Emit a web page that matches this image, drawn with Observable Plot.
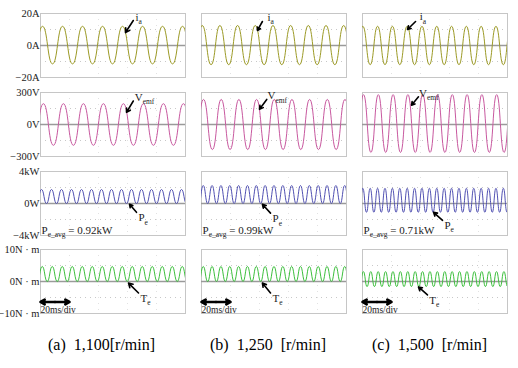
<!DOCTYPE html>
<html><head><meta charset="utf-8">
<script src="https://cdn.jsdelivr.net/npm/d3@7"></script>
<script src="https://cdn.jsdelivr.net/npm/@observablehq/plot@0.6"></script>
<style>
body{margin:0;background:#fff;}
#chart{position:relative;width:518px;height:368px;font-family:"Liberation Serif","DejaVu Serif",serif;overflow:hidden;}
#chart svg{position:absolute;overflow:visible;}
.cap{position:absolute;font-family:"Liberation Serif","DejaVu Serif",serif;font-size:16px;line-height:16px;white-space:pre;color:#000;}
</style></head><body><div id="chart"></div>
<script>
// ---- data ----
const panelLetters = ["(a)", "(b)", "(c)"];
const speedLabels = ["1,100[r/min]", "1,250  [r/min]", "1,500  [r/min]"];
const elecFreqHz = [72.5, 82, 98];          // fundamental frequency per speed
const rowKeys = ["ia", "vemf", "Pe", "Te"];
const harmonic = [1, 1, 2, 2];               // Pe and Te oscillate at twice the frequency
const yLimits = [20, 300, 4, 10];
const tickLabels = [
  ["\u221220A", "0A", "20A"],
  ["\u2212300V", "0V", "300V"],
  ["\u22124kW", "0W", "4kW"],
  ["\u221210N \u00b7 m", "0N \u00b7 m", "10N \u00b7 m"]
];
// peak / trough per column (a, b, c)
const iaPeak = [12, 12.5, 12],      iaTrough = [-11.5, -12, -12];
const vemfPeak = [195, 235, 280],   vemfTrough = [-195, -235, -262];
const pePeak = [1.75, 2.25, 1.9],   peTrough = [0, 0, -1.1];
const tePeak = [4.7, 4.7, 3.1],     teTrough = [0, 0, -1.6];
// time (ms) of first peak
const iaFirst = [1.4, 0.5, 0.2], vemfFirst = [2, 1.4, 0.7], peFirst = [0.7, 1.2, 0.2], teFirst = [1.2, 1.2, 0.6];
const peAvg = ["0.92kW", "0.99kW", "0.71kW"];
const timePerDiv = 20; // ms
const windowMs = 100;

// annotation anchors (tail t,v ; head t,v ; label t,v), per column
const iaNote = [
  {t1: 64, v1: 15.6, t2: 58.6, v2: 8.1, tl: 65.5, vl: 17.5},
  {t1: 42, v1: 15, t2: 38.6, v2: 9.4, tl: 45.5, vl: 17.5},
  {t1: 36.6, v1: 15, t2: 31, v2: 10, tl: 39.5, vl: 18}
];
const vemfNote = [
  {t1: 64, v1: 220, t2: 59.3, v2: 114, tl: 65, vl: 255},
  {t1: 45, v1: 235, t2: 40, v2: 143, tl: 45.5, vl: 268},
  {t1: 38.6, v1: 260, t2: 33.8, v2: 181, tl: 39, vl: 290}
];
const peNote = [
  {t1: 66.2, v1: -1.1, t2: 61.4, v2: -0.1, tl: 67.5, vl: -1.8},
  {t1: 47.6, v1: -1.2, t2: 42, v2: -0.1, tl: 49, vl: -1.9},
  {t1: 55.2, v1: -2.1, t2: 49, v2: -1.1, tl: 56.5, vl: -2.7}
];
const teNote = [
  {t1: 67.6, v1: -3.6, t2: 60.7, v2: -0.5, tl: 69, vl: -5.3},
  {t1: 47.6, v1: -3.6, t2: 42, v2: -0.5, tl: 49, vl: -5.3},
  {t1: 44.8, v1: -4.2, t2: 38.6, v2: -1.7, tl: 46, vl: -5.9}
];
const noteText = ["i|a|", "V|emf|", "P|e|", "T|e|"];

// ---- layout / style ----
const FONT = '"Liberation Serif", "DejaVu Serif", serif';
const colLeft = [40, 201, 362], panelW = 145;
const rowTop = [13, 92, 171, 249], panelH = 64;
const colors = ["#9c9a26", "#c8589f", "#5050b2", "#3cbf3c"];
const rowPeak = [iaPeak, vemfPeak, pePeak, tePeak];
const rowTrough = [iaTrough, vemfTrough, peTrough, teTrough];
const rowFirst = [iaFirst, vemfFirst, peFirst, teFirst];
const rowNotes = [iaNote, vemfNote, peNote, teNote];

function extrema(c, r) {
  const half = 1000 / (elecFreqHz[c] * harmonic[r]) / 2;
  const t0 = rowFirst[r][c];
  const pts = [];
  for (let k = -2; t0 + k * half <= windowMs + 2 * half; k++) {
    pts.push({t: t0 + k * half, v: (k % 2 === 0) ? rowPeak[r][c] : rowTrough[r][c]});
  }
  return pts;
}

function subscripts(svg) {
  d3.select(svg).selectAll("text").each(function() {
    const s = this.textContent;
    if (!s.includes("|")) return;
    const parts = s.split("|");
    const el = d3.select(this);
    const fs = parseFloat(el.attr("font-size")) || 11;
    el.text(null);
    parts.forEach((p, i) => {
      if (!p) return;
      const ts = el.append("tspan").text(p);
      if (i % 2 === 1) ts.attr("font-size", fs * 0.68).attr("dy", fs * 0.3);
      else if (i > 0) ts.attr("dy", -fs * 0.3);
    });
  });
}

const chart = document.getElementById("chart");
for (let c = 0; c < 3; c++) {
  for (let r = 0; r < 4; r++) {
    const ml = c === 0 ? 40 : 1;
    const L = yLimits[r];
    const note = rowNotes[r][c];
    const marks = [
      Plot.ruleY([-L * 0.5, L * 0.5], {stroke: "#c8c8c8", strokeDasharray: "1,4"}),
      Plot.ruleX([20, 40, 60, 80], {stroke: "#e2e2e2", strokeDasharray: "1,5"}),
      Plot.frame({stroke: "#c6c6c6"}),
      Plot.ruleY([0], {stroke: "#9a9a9a", strokeWidth: 1.3}),
      Plot.line(extrema(c, r), {x: "t", y: "v", curve: "bump-x", stroke: colors[r], strokeWidth: 1, clip: true}),
      Plot.arrow([note], {x1: "t1", y1: "v1", x2: "t2", y2: "v2", stroke: "#000", strokeWidth: 1.6, headLength: 5}),
      Plot.text([note], {x: "tl", y: "vl", text: () => noteText[r], textAnchor: "start", fontSize: 11, fill: "#222"})
    ];
    if (r === 2) {
      marks.push(Plot.text([peAvg[c]], {x: 0, y: -L * 0.84, text: d => "P|e_avg| = " + d, textAnchor: "start", fontSize: 11, fill: "#222", dx: 1}));
    }
    if (r === 3) {
      const bar = [{a: timePerDiv / 2, b: 0}, {a: timePerDiv / 2, b: timePerDiv}];
      marks.push(Plot.arrow(bar, {x1: "a", x2: "b", y1: () => -L * 0.64, y2: () => -L * 0.64, stroke: "#000", strokeWidth: 2.6, headLength: 5}));
      marks.push(Plot.text([timePerDiv + "ms/div"], {x: 0, y: -L * 0.9, text: d => d, textAnchor: "start", fontSize: 9.5, fill: "#222"}));
    }
    const svg = Plot.plot({
      width: ml + panelW + 1, height: panelH + 16,
      marginLeft: ml, marginRight: 1, marginTop: 8, marginBottom: 8,
      x: {domain: [0, windowMs], axis: null},
      y: {domain: [-L, L], axis: c === 0 ? "left" : null, ticks: [-L, 0, L],
          tickFormat: d => tickLabels[r][d < 0 ? 0 : d === 0 ? 1 : 2], tickSize: 0, tickPadding: 1, label: null},
      style: {fontFamily: FONT, fontSize: "10.5px", background: "transparent", overflow: "visible", color: "#222"},
      marks
    });
    svg.style.fontFamily = FONT;
    subscripts(svg);
    svg.style.left = (colLeft[c] - ml) + "px";
    svg.style.top = (rowTop[r] - 8) + "px";
    chart.appendChild(svg);
  }
  const cap = document.createElement("div");
  cap.className = "cap";
  cap.textContent = panelLetters[c] + "  " + speedLabels[c];
  cap.style.left = [48, 210, 372][c] + "px";
  cap.style.top = "337px";
  chart.appendChild(cap);
}
</script></body></html>
